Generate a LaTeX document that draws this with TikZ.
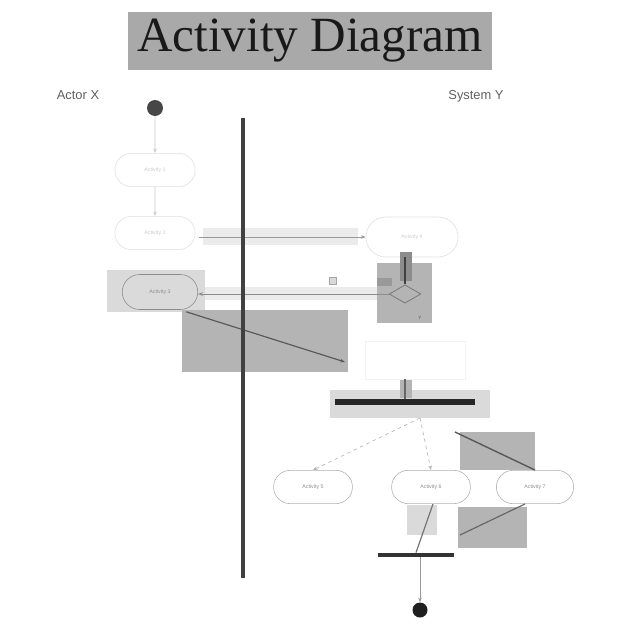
\documentclass[tikz,border=0pt]{standalone}
\usepackage{fontspec}
\setmainfont{Liberation Serif}
\newfontfamily\lsans{Liberation Sans}
\usetikzlibrary{shapes.misc,shapes.geometric,arrows.meta}
\definecolor{hlmid}{HTML}{B4B4B4}
\definecolor{hllight}{HTML}{DADADA}
\definecolor{hlpale}{HTML}{EBEBEB}
\definecolor{titlebg}{HTML}{A9A9A9}
\tikzset{
  act/.style={rounded rectangle, draw=black!30, line width=0.5pt, text=black!45,
    font=\lsans\fontsize{4.5}{5}\selectfont, minimum width=2.64cm, minimum height=1.0cm},
  faintact/.style={act, draw=black!12, text=black!20},
  lbl/.style={font=\lsans\fontsize{11}{13}\selectfont, text=black!62},
  flow/.style={draw=black!35, line width=0.5pt, -{Stealth[length=4pt,width=3pt]}},
  dflow/.style={draw=black!65, line width=1pt, -{Stealth[length=4pt,width=3pt]}},
  bar/.style={fill=black!85, draw=none},
  lane/.style={line width=3.2pt, black!75},
}
\begin{document}
\begin{tikzpicture}[x=0.03cm,y=-0.03cm]
\useasboundingbox (0,0) rectangle (640,640);
\fill[white] (0,0) rectangle (640,640);
% title
\fill[titlebg] (128,12) rectangle (492,70);
\node[font=\fontsize{42}{44}\selectfont, text=black!90] (title) at (310,41) {Activity Diagram};
% lane labels
\node[lbl] (actor) at (78,95) {Actor X};
\node[lbl] (sys) at (476,96) {System Y};
% initial node
\node[circle, fill=black!72, minimum size=0.48cm, inner sep=0pt] (init) at (155,108) {};
% activities left lane
\node[faintact] (a1) at (155,170) {Activity 1};
\node[faintact] (a2) at (155,233) {Activity 2};
\fill[hllight] (107,270) rectangle (205,312);
\node[act, minimum width=2.5cm, minimum height=1.05cm, draw=black!45] (a3) at (160,292) {Activity 3};
\draw[flow, draw=black!20] (init) -- (a1);
\draw[flow, draw=black!20] (a1) -- (a2);
% a2 -> a4
\fill[hlpale] (203,228) rectangle (358,245);
\node[faintact, minimum width=3.0cm, minimum height=1.2cm] (a4) at (412,237) {Activity 4};
\coordinate (a2e) at ([xshift=0.1cm]a2.east |- a4.west);
\draw[flow, draw=black!40] (a2e) -- (a4.west);
% decision
\fill[hlmid] (377,263) rectangle (432,323);
\fill[black!45] (400,252) rectangle (412,281);
\node[diamond, draw=black!55, line width=0.6pt, minimum width=0.95cm, minimum height=0.55cm, inner sep=0pt] (dec) at (405,294) {};
\draw[line width=2.5pt, black!75] (a4.south -| dec.north) -- (dec.north);
\fill[black!40] (377,278) rectangle (392,286);
\node[font=\lsans\fontsize{4}{5}\selectfont, text=black!70] (gy) at (420,318) {Y};
% dec -> a3
\fill[hlpale] (205,287) rectangle (377,300);
\draw[flow, draw=black!45] (dec.west) -- (dec.west -| a3.east);
\node[draw=black!35, fill=black!15, minimum size=0.2cm, inner sep=0pt] (gx) at (333,281) {};
% a3 diagonal
\fill[hlmid] (182,310) rectangle (348,372);
\coordinate (d3) at (345,362);
\coordinate (a3se) at ([xshift=0.18cm,yshift=-0.06cm]a3.south east);
\draw[dflow] (a3se) -- (d3);
\node[draw=black!5, minimum width=3.0cm, minimum height=1.15cm] (a5p) at (415,360) {};
% fork
\fill[hllight] (330,390) rectangle (490,418);
\fill[hlmid] (400,380) rectangle (412,398);
\node[bar, minimum width=4.2cm, minimum height=0.18cm, inner sep=0pt] (fork) at (405,402) {};
\draw[line width=1.5pt, black!60] (a5p.south -| fork.north) -- (fork.north);
% three activities
\node[act, minimum width=2.6cm] (a5) at (313,487) {Activity 5};
\node[act, minimum width=2.6cm] (a6) at (431,487) {Activity 6};
\node[act, minimum width=2.55cm] (a7) at (535,487) {Activity 7};
\coordinate (f1) at (420,418);
\draw[flow, dashed, draw=black!30] (f1) -- (a5.north);
\draw[flow, dashed, draw=black!30] (f1) -- (a6.north);
\fill[hlmid] (460,432) rectangle (535,470);
\coordinate (f3) at (455,432);
\draw[line width=1.2pt, black!65] (f3) -- (a7.north);
% join
\fill[hllight] (407,505) rectangle (437,535);
\fill[hlmid] (458,507) rectangle (527,548);
\node[bar, fill=black!80, minimum width=2.3cm, minimum height=0.13cm, inner sep=0pt] (join) at (416,555) {};
\coordinate (a6s) at ([xshift=0.06cm]a6.south);
\draw[line width=1pt, black!55] (a6s) -- (join.north);
\coordinate (j3) at (460,535);
\coordinate (a7s) at ([xshift=-0.3cm]a7.south);
\draw[line width=1pt, black!60] (a7s) -- (j3);
% final
\node[circle, fill=black!88, minimum size=0.45cm, inner sep=0pt] (fin) at (420,610) {};
\draw[flow, draw=black!40] (join.south -| fin.north) -- (fin.north);
% swimlane separator (on top of highlights)
\coordinate (laneTop) at (243,118);
\coordinate (laneBot) at (243,578);
\draw[lane] (laneTop) -- (laneBot);
\end{tikzpicture}
\end{document}
